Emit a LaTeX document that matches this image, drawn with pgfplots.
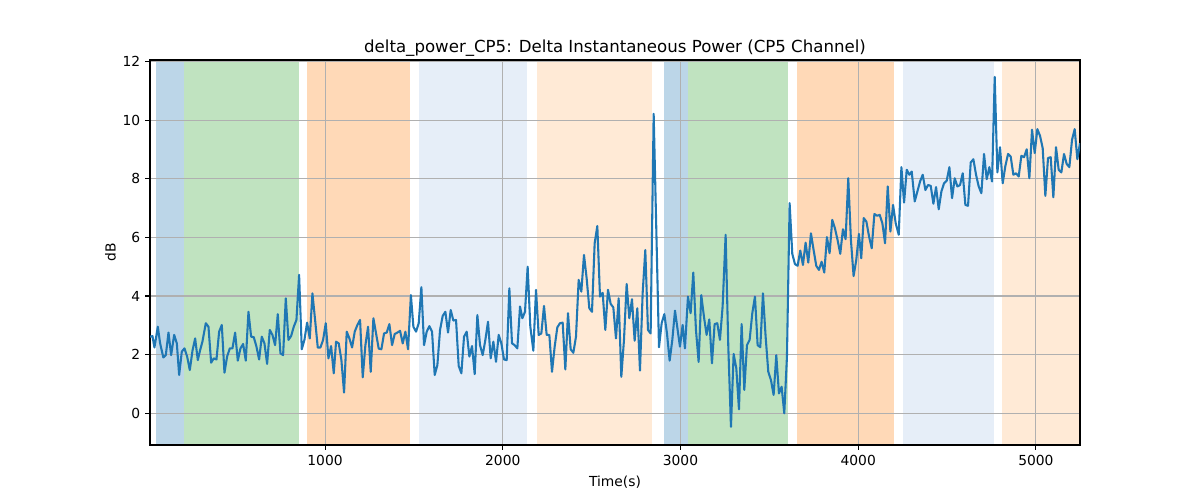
\documentclass[border=0pt]{standalone}
\usepackage{pgfplots}
\pgfplotsset{compat=1.18}
\usepackage{fontspec}
\setmainfont{DejaVu Sans}
\definecolor{tabblue}{HTML}{1F77B4}
\definecolor{spanblue}{RGB}{188,214,232}
\definecolor{spangreen}{RGB}{192,227,192}
\definecolor{spanorange}{RGB}{255,217,183}
\definecolor{spanlblue}{RGB}{230,238,248}
\definecolor{spanlorange}{RGB}{255,234,214}
\definecolor{gridgray}{HTML}{B0B0B0}
\begin{document}
\begin{tikzpicture}
\begin{axis}[
  set layers,
  scale only axis,
  width=9.3in, height=3.85in,
  xmin=15, xmax=5248, ymin=-1.09, ymax=12.06,
  xtick={1000,2000,3000,4000,5000},
  ytick={0,2,4,6,8,10,12},
  grid=major,
  major grid style={gridgray, line width=0.8pt},
  axis line style={black, line width=0.8pt},
  tick style={black, line width=0.8pt},
  tick align=outside,
  tickpos=left,
  major tick length=3.5pt,
  /pgf/number format/assume math mode=true,
  /pgf/number format/1000 sep={},
  ticklabel style={font=\fontsize{10}{12}\selectfont},
  title={delta\_power\_CP5: Delta Instantaneous Power (CP5 Channel)},
  title style={font=\fontsize{12}{14}\selectfont, yshift=-7pt},
  xlabel={Time(s)},
  ylabel={dB},
  label style={font=\fontsize{10}{12}\selectfont},
  xlabel style={yshift=-1pt},
  ylabel style={yshift=-2pt},
]
\addplot[fill=spanblue, draw=none, on layer=axis background, forget plot] coordinates {(49,-1.09) (209,-1.09) (209,12.06) (49,12.06)};
\addplot[fill=spangreen, draw=none, on layer=axis background, forget plot] coordinates {(209,-1.09) (852,-1.09) (852,12.06) (209,12.06)};
\addplot[fill=spanorange, draw=none, on layer=axis background, forget plot] coordinates {(900,-1.09) (1477,-1.09) (1477,12.06) (900,12.06)};
\addplot[fill=spanlblue, draw=none, on layer=axis background, forget plot] coordinates {(1529,-1.09) (2134,-1.09) (2134,12.06) (1529,12.06)};
\addplot[fill=spanlorange, draw=none, on layer=axis background, forget plot] coordinates {(2193,-1.09) (2842,-1.09) (2842,12.06) (2193,12.06)};
\addplot[fill=spanblue, draw=none, on layer=axis background, forget plot] coordinates {(2907,-1.09) (3043,-1.09) (3043,12.06) (2907,12.06)};
\addplot[fill=spangreen, draw=none, on layer=axis background, forget plot] coordinates {(3043,-1.09) (3607,-1.09) (3607,12.06) (3043,12.06)};
\addplot[fill=spanorange, draw=none, on layer=axis background, forget plot] coordinates {(3655,-1.09) (4200,-1.09) (4200,12.06) (3655,12.06)};
\addplot[fill=spanlblue, draw=none, on layer=axis background, forget plot] coordinates {(4252,-1.09) (4763,-1.09) (4763,12.06) (4252,12.06)};
\addplot[fill=spanlorange, draw=none, on layer=axis background, forget plot] coordinates {(4810,-1.09) (5248,-1.09) (5248,12.06) (4810,12.06)};
\addplot[tabblue, line width=1.5pt, line join=round, mark=none] coordinates {
(15,2.61)(29,2.63)(40,2.24)(59,2.95)(72,2.38)(90,1.90)(104,1.98)(119,2.75)(134,1.98)(151,2.67)(166,2.38)(179,1.30)(194,2.10)(209,2.21)(224,1.93)(239,1.47)(254,2.13)(269,2.55)(284,1.81)(297,2.15)(310,2.44)(329,3.07)(344,2.95)(359,1.72)(374,1.87)(389,1.83)(404,2.78)(419,3.01)(434,1.38)(449,1.93)(464,2.21)(479,2.21)(494,2.75)(509,1.79)(524,2.21)(539,2.36)(554,1.79)(569,3.46)(584,2.61)(599,2.59)(614,2.27)(629,1.83)(644,2.61)(659,2.38)(674,1.68)(689,2.84)(704,2.67)(719,2.32)(734,3.38)(749,2.04)(764,1.98)(779,3.92)(794,2.50)(809,2.63)(824,2.95)(839,3.18)(854,4.72)(869,2.18)(884,2.50)(899,3.09)(914,2.55)(929,4.09)(944,3.18)(959,2.24)(974,2.24)(989,2.50)(1004,3.07)(1019,1.87)(1034,2.29)(1049,1.36)
(1062,2.44)(1077,2.38)(1092,1.81)(1107,0.70)(1122,2.78)(1137,2.55)(1152,2.24)(1167,2.78)(1182,3.01)(1197,3.18)(1212,1.22)(1227,2.32)(1242,2.95)(1257,1.41)(1272,3.24)(1287,2.72)(1302,2.20)(1317,2.18)(1332,2.72)(1347,2.75)(1362,3.04)(1377,2.32)(1392,2.70)(1407,2.75)(1422,2.81)(1437,2.38)(1452,2.78)(1467,2.18)(1483,4.03)(1497,2.95)(1512,2.78)(1527,3.07)(1542,4.30)(1557,2.32)(1572,2.78)(1587,2.97)(1602,2.78)(1617,1.30)(1632,1.64)(1647,2.84)(1662,3.32)(1677,3.46)(1692,2.75)(1707,3.52)(1722,3.16)(1737,3.18)(1752,1.61)(1767,1.36)(1782,2.61)(1797,2.78)(1812,1.93)(1827,2.29)(1842,1.33)(1857,3.35)(1872,2.32)(1887,1.98)(1902,2.50)(1917,3.12)(1932,1.87)(1947,2.44)(1962,1.75)(1977,2.67)(1992,2.38)(2007,1.83)(2022,1.81)(2037,4.26)(2052,2.38)(2067,2.32)(2082,2.21)
(2097,3.64)(2110,3.24)(2125,3.46)(2140,5.00)(2155,2.95)(2172,2.13)(2187,4.21)(2202,2.67)(2217,2.72)(2232,3.66)(2247,2.67)(2262,2.67)(2277,1.41)(2292,2.27)(2307,2.93)(2322,3.07)(2337,3.09)(2352,1.49)(2367,3.41)(2382,2.18)(2397,2.06)(2412,2.61)(2427,4.55)(2442,4.15)(2457,5.40)(2472,4.60)(2487,3.58)(2502,3.46)(2517,5.80)(2532,6.39)(2547,3.98)(2562,4.11)(2577,2.84)(2592,4.21)(2607,3.73)(2622,3.61)(2637,2.55)(2652,3.92)(2667,1.24)(2682,2.50)(2697,4.41)(2712,3.24)(2727,3.89)(2742,2.47)(2757,3.58)(2772,1.45)(2787,4.09)(2802,5.57)(2817,2.84)(2832,2.72)(2849,10.22)(2879,2.25)(2894,3.07)(2909,3.38)(2924,2.72)(2939,1.79)(2954,2.50)(2969,3.50)(2984,2.84)
(2997,2.27)(3012,3.01)(3025,2.21)(3042,3.98)(3057,3.41)(3072,4.80)(3087,2.84)(3102,1.75)(3117,4.03)(3132,3.29)(3147,2.67)(3162,3.20)(3177,1.70)(3192,3.04)(3207,3.07)(3222,2.50)(3237,3.64)(3254,6.09)(3269,2.27)(3284,-0.47)(3299,2.02)(3314,1.53)(3329,0.13)(3344,3.04)(3359,0.79)(3374,2.32)(3389,2.50)(3404,3.41)(3419,3.98)(3434,2.32)(3449,2.25)(3464,4.09)(3479,2.61)(3494,1.41)(3509,1.13)(3524,0.62)(3539,1.98)(3554,0.67)(3569,0.90)(3584,-0.01)(3599,1.93)(3614,7.17)(3629,5.44)(3644,5.09)(3659,5.03)(3674,5.55)(3689,5.06)(3704,5.82)(3719,5.14)(3734,6.14)(3749,5.57)(3764,5.03)(3779,4.89)(3794,5.17)(3809,4.80)(3824,6.01)(3839,5.46)(3854,6.60)(3869,6.31)(3884,5.91)(3899,5.44)(3914,6.28)(3929,5.94)(3944,8.02)(3959,5.91)(3974,4.68)(3989,5.23)(4004,6.12)(4017,5.29)
(4031,6.66)(4046,6.54)(4061,6.03)(4076,5.63)(4091,6.80)(4106,6.74)(4121,6.77)(4136,6.48)(4151,5.80)(4166,7.74)(4181,6.20)(4196,7.11)(4211,6.48)(4228,6.09)(4243,8.40)(4258,7.19)(4273,8.31)(4288,8.14)(4301,8.25)(4318,7.23)(4333,7.57)(4348,7.91)(4363,8.14)(4378,7.62)(4393,7.79)(4408,7.76)(4423,7.15)(4438,7.72)(4453,6.96)(4468,7.57)(4483,7.85)(4498,7.94)(4513,8.40)(4528,7.34)(4543,8.02)(4558,7.74)(4573,7.79)(4588,8.19)(4603,7.11)(4618,7.08)(4633,8.56)(4648,8.67)(4663,8.14)(4678,7.74)(4693,7.51)(4708,8.85)(4723,7.99)(4738,8.40)(4753,7.91)(4768,11.48)(4783,8.22)(4798,9.08)(4813,7.85)(4828,8.44)(4843,8.85)(4858,8.76)(4873,8.14)(4888,8.19)(4903,8.08)(4918,8.79)(4933,8.74)(4948,9.01)(4963,8.02)(4978,9.68)(4993,8.88)(5008,9.70)(5023,9.47)(5038,9.05)(5053,7.42)(5068,8.71)(5083,8.74)(5098,7.37)(5113,9.08)(5128,8.31)(5143,8.22)(5158,8.85)(5173,8.51)(5188,8.40)(5203,9.33)(5218,9.70)(5233,8.67)(5248,9.22)
};
\end{axis}
\path (-1.5in,-0.55in) rectangle (10.5in,4.45in);
\end{tikzpicture}
\end{document}
